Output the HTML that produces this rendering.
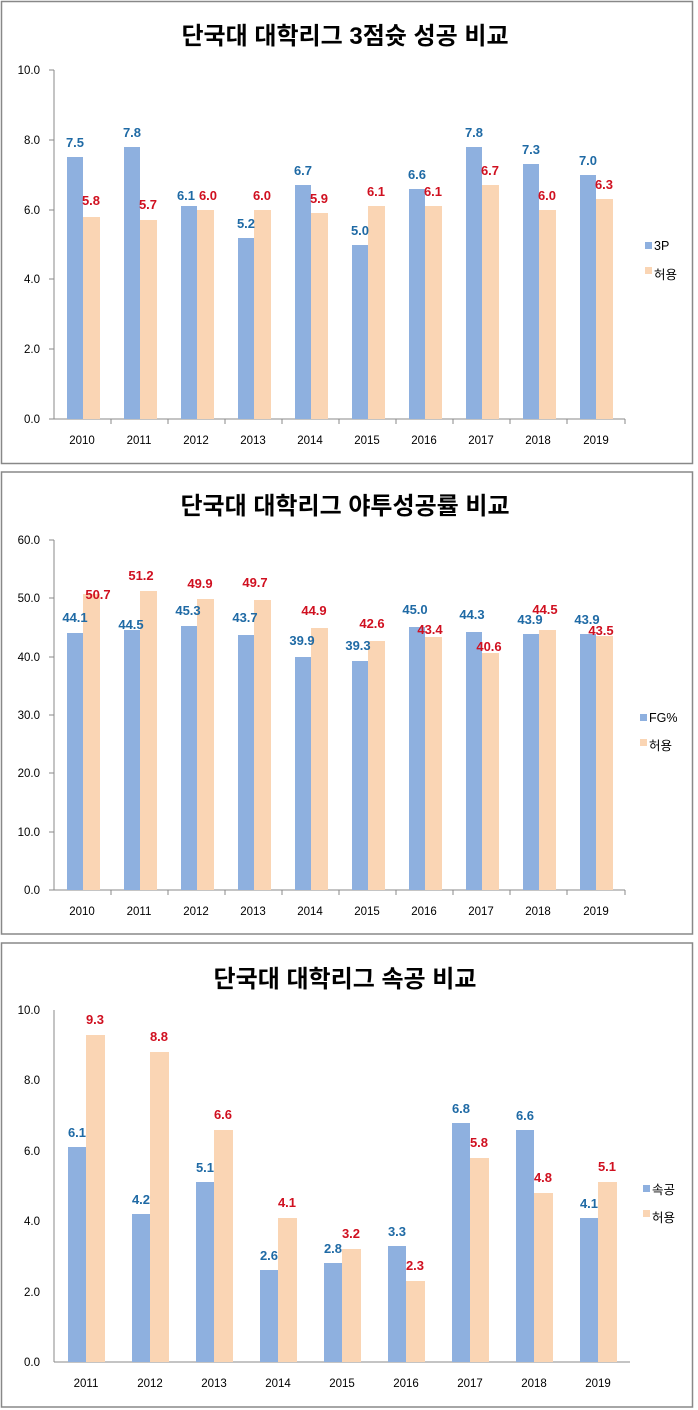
<!DOCTYPE html>
<html><head><meta charset="utf-8">
<style>
html,body{margin:0;padding:0;background:#fff;}
svg{display:block;}
text{font-family:"Liberation Sans","Noto Sans CJK KR",sans-serif;}
.t{font-size:24px;font-weight:bold;fill:#000;text-anchor:middle;}
.y{font-size:11.5px;fill:#000;text-anchor:end;}
.x{font-size:11.5px;fill:#000;text-anchor:middle;}
.b{font-size:13px;font-weight:bold;fill:#1f6aa5;text-anchor:middle;}
.r{font-size:13px;font-weight:bold;fill:#d01020;text-anchor:middle;}
.l{font-size:12.5px;fill:#000;}
</style></head><body>
<svg width="698" height="1410" xmlns="http://www.w3.org/2000/svg">
<g fill="none" stroke="#888" stroke-width="1.5">
<rect x="1.5" y="1.5" width="691" height="462"/>
<rect x="1.5" y="472" width="691" height="462"/>
<rect x="1.5" y="943" width="691" height="464"/>
</g>

<!-- Panel 1 -->
<text class="t" x="345" y="44">단국대 대학리그 3점슛 성공 비교</text>
<g stroke="#888" stroke-width="1">
<line x1="54" y1="70" x2="54" y2="419"/><line x1="54" y1="419" x2="625" y2="419"/>
<line x1="49" y1="70" x2="54" y2="70"/><line x1="49" y1="140" x2="54" y2="140"/><line x1="49" y1="210" x2="54" y2="210"/><line x1="49" y1="279" x2="54" y2="279"/><line x1="49" y1="349" x2="54" y2="349"/><line x1="49" y1="419" x2="54" y2="419"/>
<line x1="111" y1="419" x2="111" y2="424"/><line x1="168" y1="419" x2="168" y2="424"/><line x1="225" y1="419" x2="225" y2="424"/><line x1="282" y1="419" x2="282" y2="424"/><line x1="339" y1="419" x2="339" y2="424"/><line x1="396" y1="419" x2="396" y2="424"/><line x1="453" y1="419" x2="453" y2="424"/><line x1="510" y1="419" x2="510" y2="424"/><line x1="567" y1="419" x2="567" y2="424"/><line x1="625" y1="419" x2="625" y2="424"/>
</g>
<text class="y" x="40" y="74">10.0</text><text class="y" x="40" y="144">8.0</text><text class="y" x="40" y="214">6.0</text><text class="y" x="40" y="283">4.0</text><text class="y" x="40" y="353">2.0</text><text class="y" x="40" y="423">0.0</text>
<g fill="#8eb0df">
<rect x="67" y="157" width="16" height="262"/><rect x="124" y="147" width="16" height="272"/><rect x="181" y="206" width="16" height="213"/><rect x="238" y="238" width="16" height="181"/><rect x="295" y="185" width="16" height="234"/><rect x="352" y="245" width="16" height="174"/><rect x="409" y="189" width="16" height="230"/><rect x="466" y="147" width="16" height="272"/><rect x="523" y="164" width="16" height="255"/><rect x="580" y="175" width="16" height="244"/>
</g>
<g fill="#fad5b4">
<rect x="83" y="217" width="17" height="202"/><rect x="140" y="220" width="17" height="199"/><rect x="197" y="210" width="17" height="209"/><rect x="254" y="210" width="17" height="209"/><rect x="311" y="213" width="17" height="206"/><rect x="368" y="206" width="17" height="213"/><rect x="425" y="206" width="17" height="213"/><rect x="482" y="185" width="17" height="234"/><rect x="539" y="210" width="17" height="209"/><rect x="596" y="199" width="17" height="220"/>
</g>
<text class="b" x="75" y="147">7.5</text><text class="b" x="132" y="137">7.8</text><text class="b" x="186" y="200">6.1</text><text class="b" x="246" y="228">5.2</text><text class="b" x="303" y="175">6.7</text><text class="b" x="360" y="235">5.0</text><text class="b" x="417" y="179">6.6</text><text class="b" x="474" y="137">7.8</text><text class="b" x="531" y="154">7.3</text><text class="b" x="588" y="165">7.0</text>
<text class="r" x="91" y="205">5.8</text><text class="r" x="148" y="209">5.7</text><text class="r" x="208" y="200">6.0</text><text class="r" x="262" y="200">6.0</text><text class="r" x="319" y="203">5.9</text><text class="r" x="376" y="196">6.1</text><text class="r" x="433" y="196">6.1</text><text class="r" x="490" y="175">6.7</text><text class="r" x="547" y="200">6.0</text><text class="r" x="604" y="189">6.3</text>
<text class="x" x="82" y="444">2010</text><text class="x" x="139" y="444">2011</text><text class="x" x="196" y="444">2012</text><text class="x" x="253" y="444">2013</text><text class="x" x="310" y="444">2014</text><text class="x" x="367" y="444">2015</text><text class="x" x="424" y="444">2016</text><text class="x" x="481" y="444">2017</text><text class="x" x="538" y="444">2018</text><text class="x" x="596" y="444">2019</text>
<rect x="645" y="242" width="7" height="7" fill="#8eb0df"/><text class="l" x="654" y="250">3P</text>
<rect x="645" y="267" width="7" height="7" fill="#fad5b4"/><text class="l" x="654" y="279">허용</text>

<!-- Panel 2 -->
<text class="t" x="345" y="514">단국대 대학리그 야투성공률 비교</text>
<g stroke="#888" stroke-width="1">
<line x1="54" y1="540" x2="54" y2="890"/><line x1="54" y1="890" x2="625" y2="890"/>
<line x1="49" y1="540" x2="54" y2="540"/><line x1="49" y1="598" x2="54" y2="598"/><line x1="49" y1="657" x2="54" y2="657"/><line x1="49" y1="715" x2="54" y2="715"/><line x1="49" y1="773" x2="54" y2="773"/><line x1="49" y1="832" x2="54" y2="832"/><line x1="49" y1="890" x2="54" y2="890"/>
<line x1="111" y1="890" x2="111" y2="895"/><line x1="168" y1="890" x2="168" y2="895"/><line x1="225" y1="890" x2="225" y2="895"/><line x1="282" y1="890" x2="282" y2="895"/><line x1="339" y1="890" x2="339" y2="895"/><line x1="396" y1="890" x2="396" y2="895"/><line x1="453" y1="890" x2="453" y2="895"/><line x1="510" y1="890" x2="510" y2="895"/><line x1="567" y1="890" x2="567" y2="895"/><line x1="625" y1="890" x2="625" y2="895"/>
</g>
<text class="y" x="40" y="544">60.0</text><text class="y" x="40" y="602">50.0</text><text class="y" x="40" y="661">40.0</text><text class="y" x="40" y="719">30.0</text><text class="y" x="40" y="777">20.0</text><text class="y" x="40" y="836">10.0</text><text class="y" x="40" y="894">0.0</text>
<g fill="#8eb0df">
<rect x="67" y="633" width="16" height="257"/><rect x="124" y="630" width="16" height="260"/><rect x="181" y="626" width="16" height="264"/><rect x="238" y="635" width="16" height="255"/><rect x="295" y="657" width="16" height="233"/><rect x="352" y="661" width="16" height="229"/><rect x="409" y="627" width="16" height="263"/><rect x="466" y="632" width="16" height="258"/><rect x="523" y="634" width="16" height="256"/><rect x="580" y="634" width="16" height="256"/>
</g>
<g fill="#fad5b4">
<rect x="83" y="594" width="17" height="296"/><rect x="140" y="591" width="17" height="299"/><rect x="197" y="599" width="17" height="291"/><rect x="254" y="600" width="17" height="290"/><rect x="311" y="628" width="17" height="262"/><rect x="368" y="641" width="17" height="249"/><rect x="425" y="637" width="17" height="253"/><rect x="482" y="653" width="17" height="237"/><rect x="539" y="630" width="17" height="260"/><rect x="596" y="636" width="17" height="254"/>
</g>
<text class="b" x="75" y="622">44.1</text><text class="b" x="131" y="629">44.5</text><text class="b" x="188" y="615">45.3</text><text class="b" x="245" y="622">43.7</text><text class="b" x="302" y="645">39.9</text><text class="b" x="358" y="650">39.3</text><text class="b" x="415" y="614">45.0</text><text class="b" x="472" y="619">44.3</text><text class="b" x="530" y="624">43.9</text><text class="b" x="587" y="624">43.9</text>
<text class="r" x="98" y="599">50.7</text><text class="r" x="141" y="580">51.2</text><text class="r" x="200" y="588">49.9</text><text class="r" x="255" y="587">49.7</text><text class="r" x="314" y="615">44.9</text><text class="r" x="372" y="628">42.6</text><text class="r" x="430" y="634">43.4</text><text class="r" x="489" y="651">40.6</text><text class="r" x="545" y="614">44.5</text><text class="r" x="601" y="635">43.5</text>
<text class="x" x="82" y="915">2010</text><text class="x" x="139" y="915">2011</text><text class="x" x="196" y="915">2012</text><text class="x" x="253" y="915">2013</text><text class="x" x="310" y="915">2014</text><text class="x" x="367" y="915">2015</text><text class="x" x="424" y="915">2016</text><text class="x" x="481" y="915">2017</text><text class="x" x="538" y="915">2018</text><text class="x" x="596" y="915">2019</text>
<rect x="640" y="714" width="7" height="7" fill="#8eb0df"/><text class="l" x="649" y="722">FG%</text>
<rect x="640" y="739" width="7" height="7" fill="#fad5b4"/><text class="l" x="649" y="750">허용</text>

<!-- Panel 3 -->
<text class="t" x="345" y="987">단국대 대학리그 속공 비교</text>
<g stroke="#888" stroke-width="1">
<line x1="54" y1="1010" x2="54" y2="1362"/><line x1="54" y1="1362" x2="630" y2="1362"/>
</g>
<text class="y" x="40" y="1014">10.0</text><text class="y" x="40" y="1084">8.0</text><text class="y" x="40" y="1155">6.0</text><text class="y" x="40" y="1225">4.0</text><text class="y" x="40" y="1296">2.0</text><text class="y" x="40" y="1366">0.0</text>
<g fill="#8eb0df">
<rect x="68" y="1147" width="18" height="215"/><rect x="132" y="1214" width="18" height="148"/><rect x="196" y="1182" width="18" height="180"/><rect x="260" y="1270" width="18" height="92"/><rect x="324" y="1263" width="18" height="99"/><rect x="388" y="1246" width="18" height="116"/><rect x="452" y="1123" width="18" height="239"/><rect x="516" y="1130" width="18" height="232"/><rect x="580" y="1218" width="18" height="144"/>
</g>
<g fill="#fad5b4">
<rect x="86" y="1035" width="19" height="327"/><rect x="150" y="1052" width="19" height="310"/><rect x="214" y="1130" width="19" height="232"/><rect x="278" y="1218" width="19" height="144"/><rect x="342" y="1249" width="19" height="113"/><rect x="406" y="1281" width="19" height="81"/><rect x="470" y="1158" width="19" height="204"/><rect x="534" y="1193" width="19" height="169"/><rect x="598" y="1182" width="19" height="180"/>
</g>
<text class="b" x="77" y="1137">6.1</text><text class="b" x="141" y="1204">4.2</text><text class="b" x="205" y="1172">5.1</text><text class="b" x="269" y="1260">2.6</text><text class="b" x="333" y="1253">2.8</text><text class="b" x="397" y="1236">3.3</text><text class="b" x="461" y="1113">6.8</text><text class="b" x="525" y="1120">6.6</text><text class="b" x="589" y="1208">4.1</text>
<text class="r" x="95" y="1024">9.3</text><text class="r" x="159" y="1041">8.8</text><text class="r" x="223" y="1119">6.6</text><text class="r" x="287" y="1207">4.1</text><text class="r" x="351" y="1238">3.2</text><text class="r" x="415" y="1270">2.3</text><text class="r" x="479" y="1147">5.8</text><text class="r" x="543" y="1182">4.8</text><text class="r" x="607" y="1171">5.1</text>
<text class="x" x="86" y="1387">2011</text><text class="x" x="150" y="1387">2012</text><text class="x" x="214" y="1387">2013</text><text class="x" x="278" y="1387">2014</text><text class="x" x="342" y="1387">2015</text><text class="x" x="406" y="1387">2016</text><text class="x" x="470" y="1387">2017</text><text class="x" x="534" y="1387">2018</text><text class="x" x="598" y="1387">2019</text>
<rect x="643" y="1185" width="7" height="7" fill="#8eb0df"/><text class="l" x="652" y="1194">속공</text>
<rect x="643" y="1210" width="7" height="7" fill="#fad5b4"/><text class="l" x="652" y="1222">허용</text>
</svg>
</body></html>
